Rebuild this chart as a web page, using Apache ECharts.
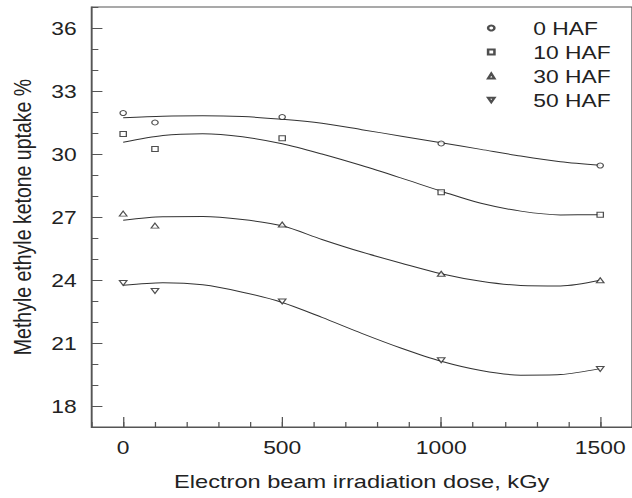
<!DOCTYPE html>
<html>
<head>
<meta charset="utf-8">
<script src="https://cdn.jsdelivr.net/npm/echarts@6/dist/echarts.min.js"></script>
<style>
html,body{margin:0;padding:0;background:#fff;overflow:hidden}
#wrap{width:632px;height:498px;overflow:hidden;position:relative}
#c{width:498px;height:498px;transform:scaleX(1.2691);transform-origin:0 0;position:absolute;left:0;top:0}
</style>
</head>
<body>
<div id="wrap"><div id="c"></div></div>
<script>
// measured data points
var doses = [0, 100, 500, 1000, 1500];
var haf0 = [31.95, 31.5, 31.76, 30.5, 29.45];
var haf10 = [30.95, 30.24, 30.75, 28.18, 27.11];
var haf30 = [27.16, 26.59, 26.64, 24.3, 23.99];
var haf50 = [23.86, 23.48, 22.98, 20.18, 19.76];
// fitted curves
var curveX = [0, 125, 250, 375, 500, 625, 750, 875, 1000, 1125, 1250, 1375, 1500];
var fit0 = [31.73, 31.80, 31.82, 31.78, 31.65, 31.46, 31.16, 30.85, 30.54, 30.22, 29.90, 29.63, 29.46];
var fit10 = [30.56, 30.88, 30.96, 30.82, 30.49, 30.00, 29.45, 28.85, 28.23, 27.65, 27.28, 27.10, 27.11];
var fit30 = [26.84, 27.01, 27.02, 26.88, 26.58, 25.93, 25.33, 24.80, 24.30, 23.94, 23.74, 23.72, 23.99];
var fit50 = [23.75, 23.87, 23.77, 23.42, 22.93, 22.22, 21.46, 20.75, 20.13, 19.69, 19.47, 19.50, 19.78];
var names = ['0 HAF', '10 HAF', '30 HAF', '50 HAF'];
var xMajor = [0, 500, 1000, 1500];
var yMajor = [18, 21, 24, 27, 30, 33, 36];

var symbols = ['circle', 'rect', 'triangle', 'path://M0,0 L10,0 L5,9 Z'];
var sizes = [5, 5, [6, 5], [6, 5]];
var pts = [haf0, haf10, haf30, haf50];
var fits = [fit0, fit10, fit30, fit50];
function pairs(xs, ys){ return xs.map(function(x,i){ return [x, ys[i]]; }); }

var FONT = 'Liberation Sans';
var series = [];
fits.forEach(function(f){
  series.push({type:'line', data: pairs(curveX, f), smooth: 0.3, showSymbol:false, symbol:'none',
    lineStyle:{color:'#333', width:1}, silent:true, z:2});
});
pts.forEach(function(p, i){
  series.push({type:'scatter', name: names[i], data: pairs(doses, p), symbol: symbols[i],
    symbolSize: sizes[i],
    itemStyle:{color:'#fff', borderColor:'#222', borderWidth:1}, z:3});
});
function plain(v){ return String(v); }

var chart = echarts.init(document.getElementById('c'), null, {renderer:'svg'});
chart.setOption({
  animation:false,
  backgroundColor:'#fff',
  grid:{left:69.9, top:7, width:432.8, height:420, show:true, borderColor:'#555', borderWidth:1, backgroundColor:'transparent'},
  legend:{data:names, orient:'vertical', left:378.6, top:13, itemWidth:5, itemHeight:5, itemGap:4,
    textStyle:{fontFamily:FONT, fontSize:18, color:'#222', lineHeight:20, padding:[0,0,0,25.6]}},
  xAxis:[
    {type:'value', min:-100, max:1600, interval:100, position:'bottom',
     axisLine:{show:true, onZero:false, lineStyle:{color:'#555'}}, axisTick:{show:true, inside:true, length:5, lineStyle:{color:'#555'}},
     axisLabel:{show:false}, splitLine:{show:false},
     name:'Electron beam irradiation dose, kGy', nameLocation:'middle', nameGap:45,
     nameTextStyle:{fontFamily:FONT, fontSize:18.6, color:'#222'}},
    {type:'value', min:-100, max:1600, position:'bottom', gridIndex:0,
     axisLine:{show:false, onZero:false}, axisTick:{show:true, inside:true, length:10, customValues:xMajor, lineStyle:{color:'#555'}},
     axisLabel:{show:true, customValues:xMajor, formatter:plain, margin:11, fontFamily:FONT, fontSize:18, color:'#222'}, splitLine:{show:false}}
  ],
  yAxis:[
    {type:'value', min:17, max:37, interval:1, position:'left',
     axisLine:{show:true, onZero:false, lineStyle:{color:'#555'}}, axisTick:{show:true, inside:true, length:5.5, lineStyle:{color:'#555'}},
     axisLabel:{show:false}, splitLine:{show:false},
     name:'Methyle ethyle ketone uptake %', nameLocation:'middle', nameGap:44,
     nameTextStyle:{fontFamily:FONT, fontSize:19.5, color:'#222'}},
    {type:'value', min:17, max:37, position:'left', gridIndex:0,
     axisLine:{show:false, onZero:false}, axisTick:{show:true, inside:true, length:8.7, customValues:yMajor, lineStyle:{color:'#555'}},
     axisLabel:{show:true, customValues:yMajor, formatter:plain, margin:11.6, fontFamily:FONT, fontSize:18, color:'#222'}, splitLine:{show:false}}
  ],
  series: series
});
</script>
</body>
</html>
